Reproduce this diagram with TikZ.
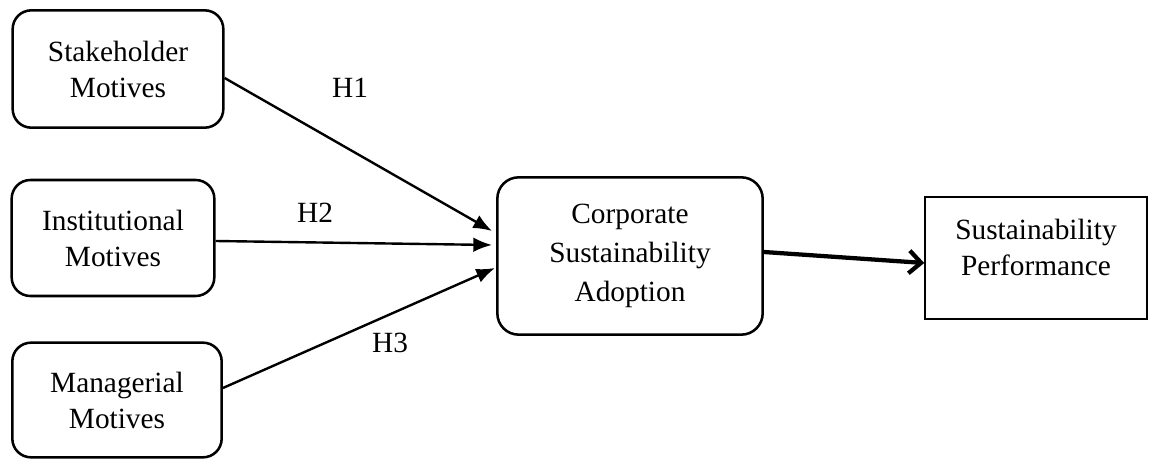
\documentclass[tikz,border=0pt]{standalone}
\usepackage{fontspec}
\setmainfont{Liberation Serif}
\usetikzlibrary{arrows.meta}
\begin{document}
\begin{tikzpicture}[x=0.75pt, y=-0.75pt,
  every node/.style={font=\fontsize{22}{27}\selectfont},
  motive/.style={draw, line width=1.9pt, rounded corners=14pt, align=center},
  link/.style={line width=1.8pt, -{Latex[length=14pt, width=11pt]}}]
\useasboundingbox (0,0) rectangle (1150,459);
\node[motive, minimum width=158pt, minimum height=88pt] (stake) at (118, 69) {Stakeholder\\Motives};
\node[motive, minimum width=152pt, minimum height=87pt] (inst) at (113, 238) {Institutional\\Motives};
\node[motive, minimum width=157pt, minimum height=86pt] (manag) at (117, 400) {Managerial\\Motives};
\node[motive, minimum width=199pt, minimum height=118pt, rounded corners=16pt] (corp) at (630, 256) {Corporate\\[2pt]Sustainability\\[2pt]Adoption};
\node[draw, line width=1.7pt, minimum width=166pt, minimum height=92pt] (perf) at (1036, 258) {};
\node[align=center] (perftext) at (1036, 247) {Sustainability\\Performance};
\coordinate (endone) at (492, 231);
\coordinate (endtwo) at (492, 245);
\coordinate (endthree) at (495, 268);
\draw[link] (stake.east |- 0,78) -- (endone);
\draw[link] (inst.east |- 0,241) -- (endtwo);
\draw[link] (manag.east |- 0,388) -- (endthree);
\draw[line width=3.2pt, -{Straight Barb[length=9pt, width=17pt]}] (corp.east |- 0,252) -- (perf.west |- 0,263);
\node (h1) at (350, 88) {H1};
\node (h2) at (315, 213) {H2};
\node (h3) at (390, 343) {H3};
\end{tikzpicture}
\end{document}
